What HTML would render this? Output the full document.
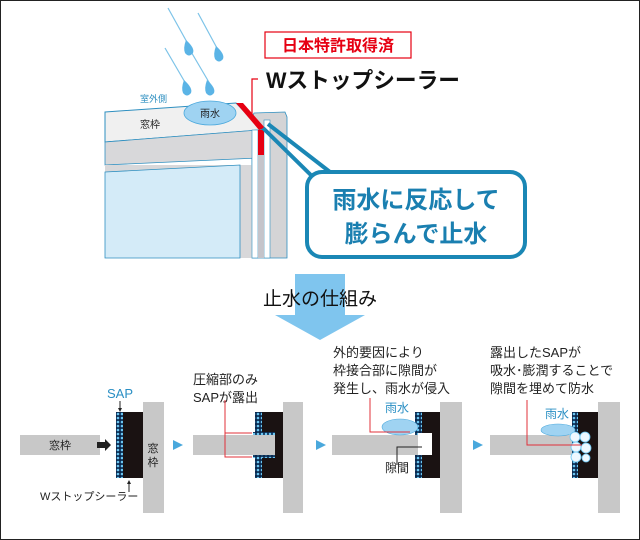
<!DOCTYPE html>
<html><head><meta charset="utf-8"><style>
html,body{margin:0;padding:0;background:#fff}
svg{display:block}
text{font-family:"Liberation Sans","Noto Sans CJK JP",sans-serif}
</style></head><body>
<svg width="640" height="540" viewBox="0 0 640 540" xmlns="http://www.w3.org/2000/svg">
<rect x="0.5" y="0.5" width="639" height="539" fill="#fff" stroke="#222" stroke-width="1"/>
<!-- rain -->
<g stroke="#7cc3e8" stroke-width="1.2">
<line x1="168" y1="8" x2="188" y2="44"/><line x1="198" y1="13" x2="218" y2="50"/>
<line x1="165" y1="48" x2="186" y2="84"/><line x1="190" y1="50" x2="210" y2="84"/>
</g>
<g fill="#5bb4e6">
<path d="M186,40 Q195,48 193,53 Q189,58 185,53 Q183,48 186,40Z"/>
<path d="M216,46 Q225,54 223,59 Q219,64 215,59 Q213,54 216,46Z"/>
<path d="M184,80 Q193,88 191,93 Q187,98 183,93 Q181,88 184,80Z"/>
<path d="M207,80 Q216,88 214,93 Q210,98 206,93 Q204,88 207,80Z"/>
</g>
<!-- back frame piece -->
<polygon points="254,113 285,112 287,117 287,258 252,258 252,118" fill="#d4d4d6" stroke="#2e8fc0" stroke-width="0.8"/>
<rect x="264" y="120" width="6" height="138" fill="#fff" stroke="#2e8fc0" stroke-width="0.6"/>
<!-- top face -->
<polygon points="105,112 236,103 262,130 105,142" fill="#f0f0f0" stroke="#2e8fc0" stroke-width="1"/>
<!-- front band -->
<polygon points="105,142 258,130 258,158 105,165" fill="#d8d8da" stroke="#2e8fc0" stroke-width="0.8"/>
<rect x="105" y="165" width="148" height="93" fill="#d8d8da"/>
<polygon points="105,172 240,165 240,258 105,258" fill="#d4ebf8" stroke="#2e8fc0" stroke-width="0.8"/>
<rect x="252" y="130" width="6" height="128" fill="#fff" stroke="#2e8fc0" stroke-width="0.6"/>
<rect x="258" y="155" width="6" height="103" fill="#c4c4ca"/>
<!-- red seal -->
<polygon points="236,103 243,103 265,128 259,130" fill="#e60012"/>
<rect x="258" y="130" width="6" height="25" fill="#e60012"/>
<path d="M252,120 V79 H258" fill="none" stroke="#e60012" stroke-width="1.2"/>
<!-- water blob -->
<ellipse cx="210" cy="113" rx="26" ry="12" fill="#9fd3f2" stroke="#4aa8dc" stroke-width="0.8"/>
<text x="210" y="117" font-size="10" text-anchor="middle" fill="#222">雨水</text>
<text x="140" y="102" font-size="9" fill="#2e8fc0">室外側</text>
<text x="140" y="128" font-size="10" fill="#222">窓枠</text>
<!-- callout -->
<path d="M263,128 L320,184" stroke="#1a87b5" stroke-width="4" fill="none"/>
<path d="M268,124 L330,172" stroke="#1a87b5" stroke-width="4" fill="none"/>
<rect x="307" y="172" width="218" height="85" rx="15" fill="#fff" stroke="#1a87b5" stroke-width="4"/>
<text x="416" y="208" font-size="24" font-weight="bold" text-anchor="middle" fill="#1a7fb0">雨水に反応して</text>
<text x="416" y="242" font-size="24" font-weight="bold" text-anchor="middle" fill="#1a7fb0">膨らんで止水</text>
<!-- patent -->
<rect x="265" y="32" width="146" height="26" fill="#fff" stroke="#e60012" stroke-width="1.2"/>
<text x="338" y="51" font-size="16" font-weight="bold" text-anchor="middle" fill="#e60012">日本特許取得済</text>
<text x="266" y="88" font-size="22" font-weight="bold" fill="#111" textLength="194" lengthAdjust="spacingAndGlyphs">Wストップシーラー</text>
<!-- big arrow -->
<polygon points="295,274 345,274 345,315 365,315 320,340 275,315 295,315" fill="#7fc5ee"/>
<text x="320" y="305" font-size="19" text-anchor="middle" fill="#111">止水の仕組み</text>
<!-- panel triangles -->
<g fill="#4aa8dc">
<polygon points="173,440 183,445 173,450"/><polygon points="316,440 326,445 316,450"/><polygon points="473,440 483,445 473,450"/>
</g>
<defs><pattern id="sap" width="4" height="4" patternUnits="userSpaceOnUse"><rect width="4" height="4" fill="#0a2a50"/><circle cx="2" cy="2" r="1.3" fill="#6cc6f2"/></pattern></defs>
<!-- panel 1 -->
<rect x="20" y="435" width="80" height="20" fill="#c8c8c8"/>
<text x="60" y="449" font-size="11" text-anchor="middle" fill="#222">窓枠</text>
<polygon points="97,442 105,442 105,439 111,445 105,451 105,448 97,448" fill="#222"/>
<rect x="143" y="402" width="21" height="111" fill="#c8c8c8"/>
<text x="153" y="452" font-size="11" text-anchor="middle" fill="#222">窓</text>
<text x="153" y="466" font-size="11" text-anchor="middle" fill="#222">枠</text>
<rect x="116" y="412" width="7" height="66" fill="url(#sap)"/>
<rect x="123" y="412" width="20" height="66" fill="#1a1212"/>
<text x="120" y="398" font-size="13" text-anchor="middle" fill="#2a8fc4">SAP</text>
<line x1="120" y1="401" x2="120" y2="409" stroke="#222"/><polygon points="118,408 122,408 120,412" fill="#222"/>
<line x1="129" y1="484" x2="129" y2="492" stroke="#222"/><polygon points="127,484 131,484 129,480" fill="#222"/>
<text x="40" y="500" font-size="11" fill="#222">Wストップシーラー</text>
<!-- panel 2 -->
<rect x="283" y="402" width="20" height="111" fill="#c8c8c8"/>
<rect x="262" y="412" width="21" height="66" fill="#1a1212"/>
<rect x="255" y="412" width="7" height="20" fill="url(#sap)"/>
<rect x="255" y="458" width="7" height="20" fill="url(#sap)"/>
<rect x="193" y="435" width="82" height="20" fill="#c8c8c8"/>
<rect x="253" y="432" width="22" height="3" fill="url(#sap)"/><rect x="253" y="455" width="22" height="3" fill="url(#sap)"/>
<text x="193" y="384" font-size="13" fill="#222">圧縮部のみ</text>
<text x="193" y="402" font-size="13" fill="#222">SAPが露出</text>
<path d="M225,400 V433 H252 M225,433 V457 H252" fill="none" stroke="#e0303a" stroke-width="1"/>
<!-- panel 3 -->
<rect x="440" y="402" width="22" height="111" fill="#c8c8c8"/>
<rect x="422" y="412" width="18" height="66" fill="#1a1212"/>
<rect x="415" y="412" width="7" height="66" fill="url(#sap)"/>
<rect x="332" y="435" width="88" height="20" fill="#c8c8c8"/>
<rect x="418" y="433" width="14" height="22" fill="#fff"/>
<ellipse cx="400" cy="427" rx="18" ry="8" fill="#9fd3f2" stroke="#4aa8dc" stroke-width="0.6"/>
<text x="385" y="412" font-size="12" fill="#2a8fc4">雨水</text>
<text x="333" y="357" font-size="13" fill="#222">外的要因により</text>
<text x="333" y="375" font-size="13" fill="#222">枠接合部に隙間が</text>
<text x="333" y="393" font-size="13" fill="#222">発生し、雨水が侵入</text>
<path d="M370,398 V432 H410" fill="none" stroke="#e0303a" stroke-width="1"/>
<path d="M397,465 V447 H422" fill="none" stroke="#222" stroke-width="1"/>
<text x="385" y="472" font-size="12" fill="#222">隙間</text>
<!-- panel 4 -->
<rect x="598" y="402" width="22" height="111" fill="#c8c8c8"/>
<rect x="578" y="412" width="20" height="66" fill="#1a1212"/>
<rect x="572" y="412" width="6" height="66" fill="url(#sap)"/>
<rect x="490" y="435" width="82" height="20" fill="#c8c8c8"/>
<ellipse cx="558" cy="430" rx="17" ry="6" fill="#9fd3f2" stroke="#4aa8dc" stroke-width="0.6"/>
<g fill="#eef8ff" stroke="#6cc6f2" stroke-width="0.8">
<circle cx="575" cy="437" r="5"/><circle cx="585" cy="437" r="5"/><circle cx="576" cy="447" r="5"/><circle cx="586" cy="448" r="5"/><circle cx="576" cy="457" r="5"/><circle cx="586" cy="458" r="4"/>
</g>
<text x="545" y="418" font-size="12" fill="#2a8fc4">雨水</text>
<text x="490" y="357" font-size="13" fill="#222">露出したSAPが</text>
<text x="490" y="375" font-size="13" fill="#222">吸水･膨潤することで</text>
<text x="490" y="393" font-size="13" fill="#222">隙間を埋めて防水</text>
<path d="M527,400 V445 H582" fill="none" stroke="#e0303a" stroke-width="1"/>
</svg>
</body></html>
